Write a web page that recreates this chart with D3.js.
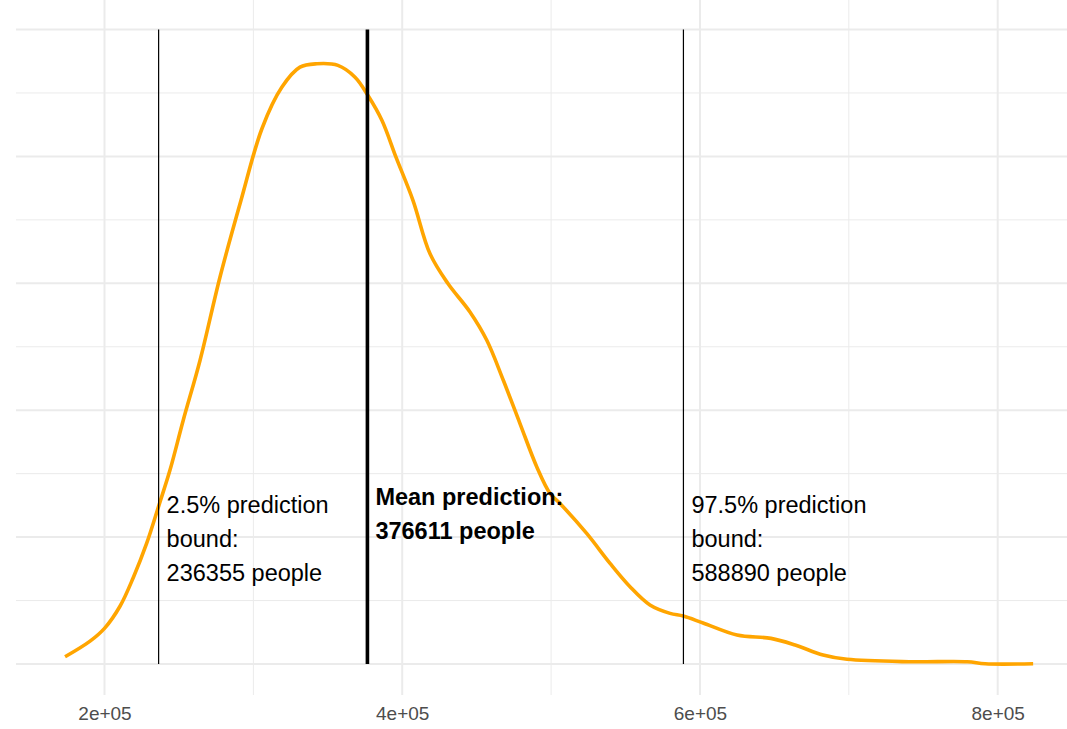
<!DOCTYPE html>
<html>
<head>
<meta charset="utf-8">
<script src="https://cdn.jsdelivr.net/npm/d3@7"></script>
<style>
  body { margin: 0; background: #fff; }
  svg { display: block; font-family: "Liberation Sans", Arial, Helvetica, sans-serif; }
</style>
</head>
<body>
<div id="chart"></div>
<script>
// density curve of predicted values (density in units of 1e-6)
var predValues = [173500, 190300, 200300, 210400, 219300, 228300, 236600, 244000, 252900,
  264200, 277600, 291700, 305800, 319200, 331300, 342700, 356800, 368300, 377000,
  386400, 395800, 407200, 418600, 430700, 445500, 456800, 467900, 479100, 490400,
  499300, 506000, 523900, 539600, 553000, 566400, 579900, 588800, 602100, 624900, 647700,
  663900, 682700, 698800, 740500, 779500, 791600, 823800];
var densValues = [0.057, 0.180, 0.285, 0.455, 0.680, 0.950, 1.252, 1.528, 1.921,
  2.394, 3.050, 3.654, 4.220, 4.546, 4.703, 4.730, 4.717, 4.624, 4.480,
  4.283, 3.994, 3.654, 3.234, 2.998, 2.774, 2.551, 2.236, 1.895, 1.553,
  1.344, 1.265, 1.029, 0.793, 0.609, 0.465, 0.399, 0.378, 0.323, 0.228, 0.202,
  0.150, 0.071, 0.037, 0.018, 0.018, 0.002, 0.002];

// reference lines
var boundValues = [236355, 376611, 588890];
var boundLabels = [
  ["2.5% prediction", "bound:", "236355 people"],
  ["Mean prediction:", "376611 people"],
  ["97.5% prediction", "bound:", "588890 people"]
];
var boundBold = [false, true, false];

var xMajor = [200000, 400000, 600000, 800000];
var xMinor = [300000, 500000, 700000];
var xTickLabels = ["2e+05", "4e+05", "6e+05", "8e+05"];
var yMajor = [0, 1, 2, 3, 4, 5];
var yMinor = [0.5, 1.5, 2.5, 3.5, 4.5];
var lineTop = 5;

var svgWidth = 1067, svgHeight = 729;
var panel = { left: 16, right: 1067, top: 0, bottom: 695 };

var svg = d3.select("#chart")
  .append("svg")
  .attr("width", svgWidth)
  .attr("height", svgHeight);

var x = d3.scaleLinear().domain([200000, 800000]).range([104.5, 997.7]);
var y = d3.scaleLinear().domain([0, 5]).range([664, 29.5]);

// grid
var grid = svg.append("g");
grid.selectAll(".ymin").data(yMinor).enter().append("line")
  .attr("x1", panel.left).attr("x2", panel.right)
  .attr("y1", d => y(d)).attr("y2", d => y(d))
  .attr("stroke", "#ebebeb").attr("stroke-width", 1);
grid.selectAll(".xmin").data(xMinor).enter().append("line")
  .attr("x1", d => x(d)).attr("x2", d => x(d))
  .attr("y1", panel.top).attr("y2", panel.bottom)
  .attr("stroke", "#ebebeb").attr("stroke-width", 1);
grid.selectAll(".ymaj").data(yMajor).enter().append("line")
  .attr("x1", panel.left).attr("x2", panel.right)
  .attr("y1", d => y(d)).attr("y2", d => y(d))
  .attr("stroke", "#ebebeb").attr("stroke-width", 2);
grid.selectAll(".xmaj").data(xMajor).enter().append("line")
  .attr("x1", d => x(d)).attr("x2", d => x(d))
  .attr("y1", panel.top).attr("y2", panel.bottom)
  .attr("stroke", "#ebebeb").attr("stroke-width", 2);

// x axis labels only
var xAxis = d3.axisBottom(x)
  .tickValues(xMajor)
  .tickFormat((d, i) => xTickLabels[i])
  .tickSize(0)
  .tickPadding(12);
var axisG = svg.append("g")
  .attr("transform", `translate(0, ${panel.bottom})`)
  .call(xAxis);
axisG.select(".domain").remove();
axisG.selectAll("text")
  .attr("fill", "#4d4d4d")
  .attr("font-size", "19px")
  .attr("font-family", "Liberation Sans, Arial, sans-serif");

// density line
var line = d3.line()
  .x((d, i) => x(predValues[i]))
  .y(d => y(d))
  .curve(d3.curveCatmullRom.alpha(0.5));

svg.append("path")
  .datum(densValues)
  .attr("d", line)
  .attr("fill", "none")
  .attr("stroke", "#ffa500")
  .attr("stroke-width", 3.6)
  .attr("stroke-linejoin", "round")
  .attr("stroke-linecap", "butt");

// vertical bound lines
svg.selectAll(".bound").data(boundValues).enter().append("line")
  .attr("x1", d => x(d)).attr("x2", d => x(d))
  .attr("y1", y(lineTop)).attr("y2", y(0))
  .attr("stroke", "#000")
  .attr("stroke-width", (d, i) => boundBold[i] ? 3.6 : 1.2);

// labels
var labelTop = [513, 505, 513];
var labelGap = [34, 33.5, 34];
boundValues.forEach(function(v, i) {
  var t = svg.append("text")
    .attr("x", x(v) + 8)
    .attr("y", labelTop[i])
    .attr("font-size", "23.5px")
    .attr("font-weight", boundBold[i] ? "bold" : "normal")
    .attr("fill", "#000");
  boundLabels[i].forEach(function(s, j) {
    t.append("tspan")
      .attr("x", x(v) + 8)
      .attr("y", labelTop[i] + j * labelGap[i])
      .text(s);
  });
});
</script>
</body>
</html>
